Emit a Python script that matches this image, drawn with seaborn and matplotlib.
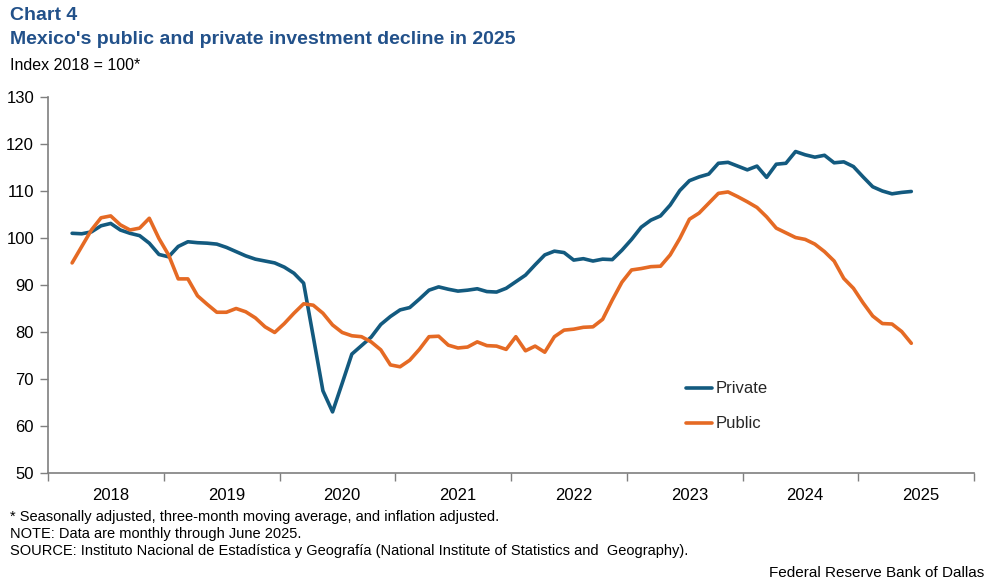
import numpy as np
import pandas as pd
import matplotlib
matplotlib.use("Agg")
import matplotlib.pyplot as plt
import seaborn as sns

# ---- data (monthly, 3-month moving average, March 2018 - June 2025) ----
start_month = "2018-03"
private = [101.0, 100.9, 101.3, 102.6, 103.1, 101.7, 101.0, 100.5, 98.9, 96.5,
           96.0, 98.2, 99.2, 99.0, 98.9, 98.7, 98.0, 97.1, 96.2, 95.5,
           95.1, 94.7, 93.8, 92.5, 90.4, 79.0, 67.5, 63.0, 69.1, 75.3,
           77.1, 78.9, 81.6, 83.3, 84.7, 85.2, 87.0, 88.9, 89.6, 89.1,
           88.7, 88.9, 89.2, 88.6, 88.5, 89.3, 90.7, 92.1, 94.3, 96.4,
           97.2, 96.9, 95.3, 95.6, 95.1, 95.5, 95.4, 97.4, 99.7, 102.3,
           103.8, 104.7, 107.0, 110.1, 112.2, 113.0, 113.6, 115.9, 116.1, 115.3,
           114.5, 115.3, 112.9, 115.7, 115.9, 118.4, 117.7, 117.2, 117.6, 116.0,
           116.2, 115.2, 113.0, 110.9, 110.0, 109.4, 109.7, 109.9]
public = [94.7, 98.2, 101.7, 104.3, 104.7, 102.8, 101.7, 102.1, 104.2, 99.9,
          96.4, 91.3, 91.3, 87.7, 85.9, 84.2, 84.2, 85.0, 84.3, 83.0,
          81.1, 79.9, 81.8, 84.0, 86.0, 85.7, 84.0, 81.5, 79.9, 79.2,
          79.0, 77.9, 76.2, 73.0, 72.6, 74.0, 76.3, 79.0, 79.1, 77.2,
          76.6, 76.8, 77.9, 77.1, 77.0, 76.3, 79.0, 76.0, 77.0, 75.7,
          79.0, 80.4, 80.6, 81.0, 81.1, 82.7, 86.8, 90.6, 93.2, 93.5,
          93.9, 94.0, 96.4, 99.9, 104.0, 105.3, 107.4, 109.5, 109.8, 108.8,
          107.7, 106.5, 104.5, 102.1, 101.1, 100.1, 99.7, 98.7, 97.1, 95.1,
          91.4, 89.3, 86.2, 83.4, 81.8, 81.7, 80.1, 77.6]
years = [2018, 2019, 2020, 2021, 2022, 2023, 2024, 2025]
series_names = ["Private", "Public"]
colors = ["#135A7F", "#E56A24"]
y_ticks = [50, 60, 70, 80, 90, 100, 110, 120, 130]

dates = pd.date_range(start_month, periods=len(private), freq="MS")
xpos = dates.year + (dates.month - 0.5) / 12.0
df = pd.concat([
    pd.DataFrame({"x": xpos, "value": private, "series": series_names[0]}),
    pd.DataFrame({"x": xpos, "value": public, "series": series_names[1]}),
])

sns.set_theme(style="white")
plt.rcParams["font.family"] = ["Liberation Sans", "DejaVu Sans"]

W, H = 997, 584
fig = plt.figure(figsize=(W / 100, H / 100), dpi=100)
ax = fig.add_axes([48 / W, 1 - 473 / H, (974 - 48) / W, (473 - 97) / H])

sns.lineplot(data=df, x="x", y="value", hue="series", palette=colors,
             linewidth=2.6, ax=ax, legend=True)

ax.set_xlim(years[0], years[-1] + 1)
ax.set_ylim(y_ticks[0], y_ticks[-1])
ax.set_yticks(y_ticks)
ax.set_xticks([y for y in years] + [years[-1] + 1])
ax.set_xticklabels([])
ax.set_xticks([y + 0.54 for y in years], minor=True)
ax.set_xticklabels([str(y) for y in years], minor=True)
ax.tick_params(axis="x", which="major", length=6, width=1, color="#7f7f7f", direction="out", bottom=True)
ax.tick_params(axis="x", which="minor", length=0, labelsize=12, pad=11, labelcolor="black", bottom=True)
ax.tick_params(axis="y", length=6, width=1, color="#7f7f7f", direction="out", labelsize=12,
               pad=4, labelcolor="black", left=True)
ax.set_xlabel("")
ax.set_ylabel("")
for s in ["top", "right"]:
    ax.spines[s].set_visible(False)
for s in ["left", "bottom"]:
    ax.spines[s].set_color("#7f7f7f")
    ax.spines[s].set_linewidth(1.2)

leg = ax.legend(loc="upper left", bbox_to_anchor=(678 / W, 1 - 373 / H),
                bbox_transform=fig.transFigure, frameon=False, fontsize=12,
                handlelength=1.55, handletextpad=0.2, labelspacing=1.2, borderpad=0)
for line in leg.get_lines():
    line.set_linewidth(2.6)

blue = "#22518A"
fig.text(10 / W, 1 - 16 / H, "Chart 4", fontsize=14, fontweight="bold", color=blue, va="center")
fig.text(10 / W, 1 - 39 / H, "Mexico's public and private investment decline in 2025",
         fontsize=14, fontweight="bold", color=blue, va="center")
fig.text(10 / W, 1 - 65 / H, "Index 2018 = 100*", fontsize=11.5, color="black", va="center")
fig.text(10 / W, 1 - 517 / H, "* Seasonally adjusted, three-month moving average, and inflation adjusted.",
         fontsize=10.5, color="black", va="center")
fig.text(10 / W, 1 - 534 / H, "NOTE: Data are monthly through June 2025.", fontsize=10.5,
         color="black", va="center")
fig.text(10 / W, 1 - 551 / H,
         "SOURCE: Instituto Nacional de Estadística y Geografía (National Institute of Statistics and  Geography).",
         fontsize=10.5, color="black", va="center")
fig.text(984 / W, 1 - 573 / H, "Federal Reserve Bank of Dallas", fontsize=11, color="black",
         va="center", ha="right")

fig.savefig("out.png", dpi=100)
